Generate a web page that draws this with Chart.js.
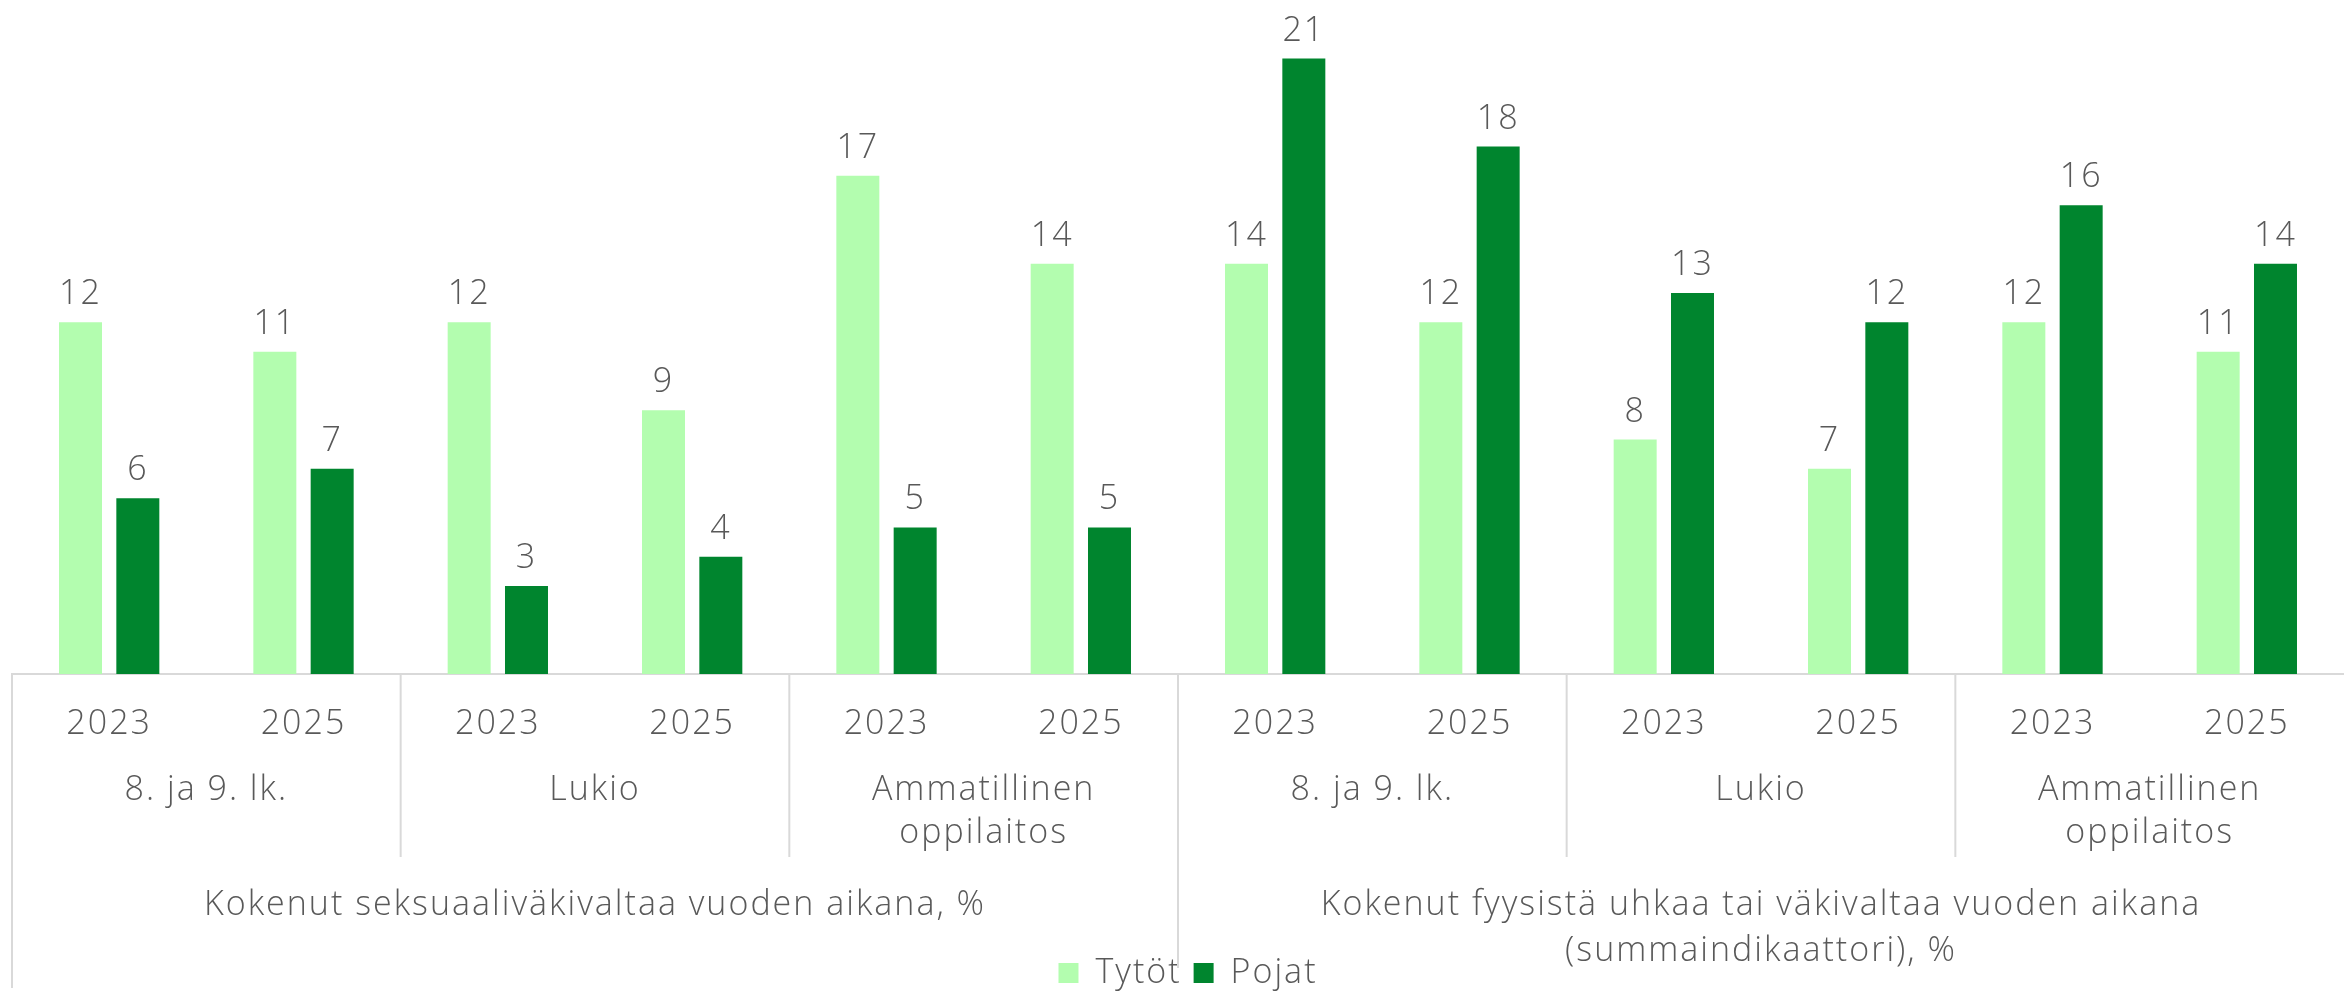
<!DOCTYPE html>
<html>
<head>
<meta charset="utf-8">
<script src="https://cdn.jsdelivr.net/npm/chart.js@4/dist/chart.umd.min.js"></script>
<style>
  html, body { margin: 0; background: #fff; }
  #wrap { width: 2344px; height: 992px; }
</style>
</head>
<body>
<div id="wrap"><canvas id="c"></canvas></div>
<script>
'use strict';

// ---------- データ ----------
const years = ['2023', '2025', '2023', '2025', '2023', '2025', '2023', '2025', '2023', '2025', '2023', '2025'];
const groups = ['8. ja 9. lk.', 'Lukio', ['Ammatillinen', 'oppilaitos'], '8. ja 9. lk.', 'Lukio', ['Ammatillinen', 'oppilaitos']];
const sections = [
  ['Kokenut seksuaaliväkivaltaa vuoden aikana, %'],
  ['Kokenut fyysistä uhkaa tai väkivaltaa vuoden aikana', '(summaindikaattori), %']
];
const tytot = [12, 11, 12, 9, 17, 14, 14, 12, 8, 7, 12, 11];
const pojat = [6, 7, 3, 4, 5, 5, 21, 18, 13, 12, 16, 14];

const LIGHT = '#b3fdaf', DARK = '#00852e';
const TXT = '#595959', LINE = '#d9d9d9';
const FONT = '"Open Sans", sans-serif';
const SPACING = '2px';

// 文字間隔(元の書体が幅広なので)
const spacing = {
  id: 'spacing',
  beforeInit(chart) { chart.ctx.letterSpacing = SPACING; },
  beforeDraw(chart) { chart.ctx.letterSpacing = SPACING; }
};

// 値ラベル
const valueLabels = {
  id: 'valueLabels',
  afterDatasetsDraw(chart) {
    const c = chart.ctx;
    c.save();
    c.font = `300 34px ${FONT}`;
    c.fillStyle = TXT;
    c.textAlign = 'center';
    c.textBaseline = 'alphabetic';
    chart.data.datasets.forEach((ds, di) => {
      chart.getDatasetMeta(di).data.forEach((bar, i) => {
        c.fillText(String(ds.data[i]), bar.x, bar.y - 18);
      });
    });
    c.restore();
  }
};

// 多段の横軸(区切り線+グループ名)
const groupAxis = {
  id: 'groupAxis',
  afterDraw(chart) {
    const x = chart.scales.x, c = chart.ctx;
    const y0 = chart.chartArea.bottom;
    const w = x.getPixelForValue(1) - x.getPixelForValue(0);
    const edge = (i) => x.getPixelForValue(0) - w / 2 + i * w;
    c.save();
    c.strokeStyle = LINE; c.lineWidth = 2;
    const vline = (px, y1) => { c.beginPath(); c.moveTo(px, y0); c.lineTo(px, y1); c.stroke(); };
    vline(edge(0), 988);
    [2, 4, 8, 10].forEach(i => vline(edge(i), 857));
    vline(edge(6), 968);

    c.font = `300 34px ${FONT}`;
    c.fillStyle = TXT;
    c.textAlign = 'center';
    c.textBaseline = 'middle';
    groups.forEach((g, gi) => {
      const cx = (edge(gi * 2) + edge(gi * 2 + 2)) / 2;
      [].concat(g).forEach((t, li) => c.fillText(t, cx, 790 + li * 43));
    });
    sections.forEach((s, si) => {
      const cx = (edge(si * 6) + edge(si * 6 + 6)) / 2;
      s.forEach((t, li) => c.fillText(t, cx, 905 + li * 46));
    });
    c.restore();
  }
};

new Chart(document.getElementById('c'), {
  type: 'bar',
  data: {
    labels: years,
    datasets: [
      { label: 'Tytöt', data: tytot, backgroundColor: LIGHT },
      { label: 'Pojat', data: pojat, backgroundColor: DARK }
    ]
  },
  options: {
    responsive: true, maintainAspectRatio: false,
    animation: false,
    layout: { padding: { left: 12, right: 0, top: 0, bottom: -8 } },
    datasets: { bar: { categoryPercentage: 0.59, barPercentage: 0.75 } },
    plugins: {
      legend: {
        position: 'bottom',
        labels: {
          boxWidth: 20, boxHeight: 20, padding: 12,
          color: TXT, font: { family: FONT, size: 34, weight: 300, lineHeight: 1 }
        }
      },
      tooltip: { enabled: false }
    },
    scales: {
      x: {
        grid: { display: false, drawTicks: false },
        border: { display: true, color: LINE, width: 2 },
        ticks: { color: TXT, font: { family: FONT, size: 34, weight: 300 }, padding: 30, maxRotation: 0, autoSkip: false },
        afterFit(s) { s.height = 270; }
      },
      y: { display: false, min: 0, max: 23 }
    }
  },
  plugins: [spacing, valueLabels, groupAxis]
});
</script>
</body>
</html>
